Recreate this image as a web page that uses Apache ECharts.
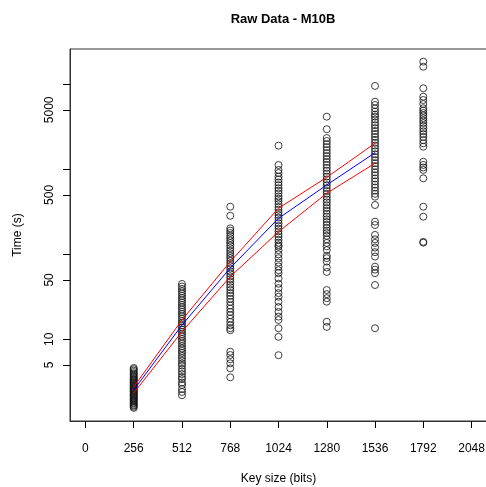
<!DOCTYPE html>
<html>
<head>
<meta charset="utf-8">
<script src="https://cdn.jsdelivr.net/npm/echarts@6/dist/echarts.min.js"></script>
<style>
  html, body { margin: 0; padding: 0; background: #fff; }
  #main { width: 486px; height: 487px; }
</style>
</head>
<body>
<div id="main"></div>
<script>
// key sizes (bits) where runs were timed
var keySizes = [256, 512, 768, 1024, 1280, 1536, 1792];

// raw timings (s) per key size
var t256 = [1.56, 1.61, 1.66, 1.7, 1.76, 1.8, 1.86, 1.9, 1.95, 2.01, 2.05, 2.11, 2.17, 2.22, 2.27, 2.33, 2.4, 2.45, 2.52, 2.57,
    2.63, 2.7, 2.76, 2.83, 2.9, 2.97, 3.05, 3.12, 3.2, 3.3, 3.38, 3.5, 3.6, 3.71, 3.85, 3.97, 4.12, 4.28, 4.45, 4.6];
var t512 = [2.2, 2.4, 2.6, 2.9, 3.1, 3.4, 3.6, 3.9, 4.2, 4.5, 4.9, 5.2, 5.6, 6.0, 6.4, 6.9, 7.3, 7.8, 8.3, 8.9,
    9.5, 10.1, 10.8, 11.5, 12.2, 13.0, 13.8, 14.6, 15.5, 16.4, 17.5, 18.6, 19.8, 21.0, 22.4, 23.8, 25.3, 27.0, 28.7, 30.5,
    32.4, 34.6, 36.8, 39.2, 41.8, 44.8];
var t768 = [363, 284, 202, 190, 178, 165, 155, 145, 136, 127, 118, 110, 103, 96, 90, 84, 78, 73, 68, 63,
    59, 55, 51, 47.5, 44, 41, 38, 35, 32.5, 30, 27.5, 25, 23, 21, 19.2, 17.5, 16, 14.6, 13.5, 12.8,
    7.15, 6.53, 5.82, 5.22, 4.56, 3.57];
var t1024 = [1897, 1122, 982, 904, 820, 760, 700, 650, 600, 560, 520, 480, 450, 420, 390, 360, 335, 310, 290, 270,
    250, 232, 215, 200, 186, 172, 160, 148, 137, 128, 123, 112, 100, 90, 80, 72, 65, 60, 52, 45,
    40, 35, 31.7, 27.7, 24, 21, 18.5, 16.9, 13.5, 10.7, 6.5];
var t1280 = [4160, 2960, 2330, 2150, 1980, 1820, 1680, 1550, 1430, 1320, 1220, 1130, 1040, 960, 890, 820, 760, 700, 650, 600,
    555, 515, 475, 440, 408, 378, 350, 325, 300, 278, 258, 240, 222, 205, 190, 178, 165, 150, 136, 124,
    112, 96, 90, 82, 70, 62, 38, 34, 30.5, 27.7, 16.1, 14];
var t1536 = [9560, 6240, 5700, 5200, 4770, 4400, 4160, 3850, 3550, 3300, 3050, 2820, 2600, 2400, 2220, 2050, 1900, 1760, 1630, 1500,
    1390, 1280, 1180, 1090, 1000, 920, 850, 780, 720, 660, 610, 560, 515, 476, 380, 242, 221, 169, 150, 136,
    120, 106, 94, 71.5, 66, 60, 43.5, 13.5];
var t1792 = [18450, 16100, 8970, 7150, 6530, 5860, 5224, 4900, 4600, 4300, 4000, 3750, 3500, 3250, 3020, 2800, 2600, 2400, 2200, 2020,
    1845, 1227, 1125, 1050, 982, 783, 363, 277, 140, 137];

// fitted mean and its band, 256..1536
var fitKeys = [256, 512, 768, 1024, 1280, 1536];
var fitMean = [2.53, 14.7, 69, 265, 654, 1567];
var fitUpper = [2.75, 16.9, 81.8, 348, 805, 2023];
var fitLower = [2.33, 12.3, 54.5, 184, 522, 1177];

// tick marks / labels
var xTicks = [0, 256, 512, 768, 1024, 1280, 1536, 1792, 2048];
var yTicks = [5, 10, 50, 100, 500, 1000, 5000, 10000];
var yLabels = [5, 10, 50, 500, 5000];

var rawCols = [t256, t512, t768, t1024, t1280, t1536, t1792];
var rawPoints = [];
rawCols.forEach(function (col, i) {
    col.forEach(function (v) {
        rawPoints.push([keySizes[i], v]);
    });
});

function pair(xs, ys) {
    return xs.map(function (x, i) { return [x, ys[i]]; });
}

function plain(v) {
    return String(v);
}

var font = '"Liberation Sans", Arial, sans-serif';

var chart = echarts.init(document.getElementById('main'), null, {renderer: 'canvas'});
chart.setOption({
    backgroundColor: '#fff',
    animation: false,
    textStyle: {fontFamily: font},
    title: {
        text: 'Raw Data - M10B',
        left: 278,
        textAlign: 'center',
        top: 8,
        textStyle: {fontSize: 13, fontWeight: 'bold', color: '#000', fontFamily: font}
    },
    grid: {
        left: 70,
        top: 49,
        width: 417,
        height: 372,
        show: true,
        borderColor: '#333',
        borderWidth: 1,
        containLabel: false,
        outerBoundsMode: 'none'
    },
    xAxis: {
        type: 'value',
        min: -81.92,
        max: 2129.92,
        name: 'Key size (bits)',
        nameLocation: 'middle',
        nameGap: 52,
        nameTextStyle: {fontSize: 12, color: '#000', fontFamily: font},
        splitLine: {show: false},
        axisLine: {show: true, onZero: false, lineStyle: {color: '#333'}},
        axisTick: {show: true, inside: false, length: 7, customValues: xTicks, lineStyle: {color: '#000'}},
        axisLabel: {customValues: xTicks, formatter: plain, fontSize: 12, color: '#000', margin: 22, fontFamily: font}
    },
    yAxis: {
        type: 'log',
        logBase: 10,
        min: 1.094,
        max: 26000,
        name: 'Time (s)',
        nameLocation: 'middle',
        nameRotate: 90,
        nameGap: 46,
        nameTextStyle: {fontSize: 12, color: '#000', fontFamily: font},
        splitLine: {show: false},
        axisLine: {show: true, onZero: false, lineStyle: {color: '#333'}},
        axisTick: {show: true, inside: false, length: 7, customValues: yTicks, lineStyle: {color: '#000'}},
        axisLabel: {customValues: yLabels, formatter: plain, rotate: 90, fontSize: 12, color: '#000', margin: 14, fontFamily: font}
    },
    series: [{
        type: 'scatter',
        symbol: 'circle',
        symbolSize: 7,
        itemStyle: {color: 'rgba(0,0,0,0)', borderColor: '#111', borderWidth: 1},
        data: rawPoints,
        silent: true
    }, {
        type: 'line',
        data: pair(fitKeys, fitUpper),
        showSymbol: false,
        lineStyle: {color: '#ff0000', width: 1},
        silent: true
    }, {
        type: 'line',
        data: pair(fitKeys, fitLower),
        showSymbol: false,
        lineStyle: {color: '#ff0000', width: 1},
        silent: true
    }, {
        type: 'line',
        data: pair(fitKeys, fitMean),
        showSymbol: false,
        lineStyle: {color: '#0000ff', width: 1},
        silent: true
    }]
});
</script>
</body>
</html>
